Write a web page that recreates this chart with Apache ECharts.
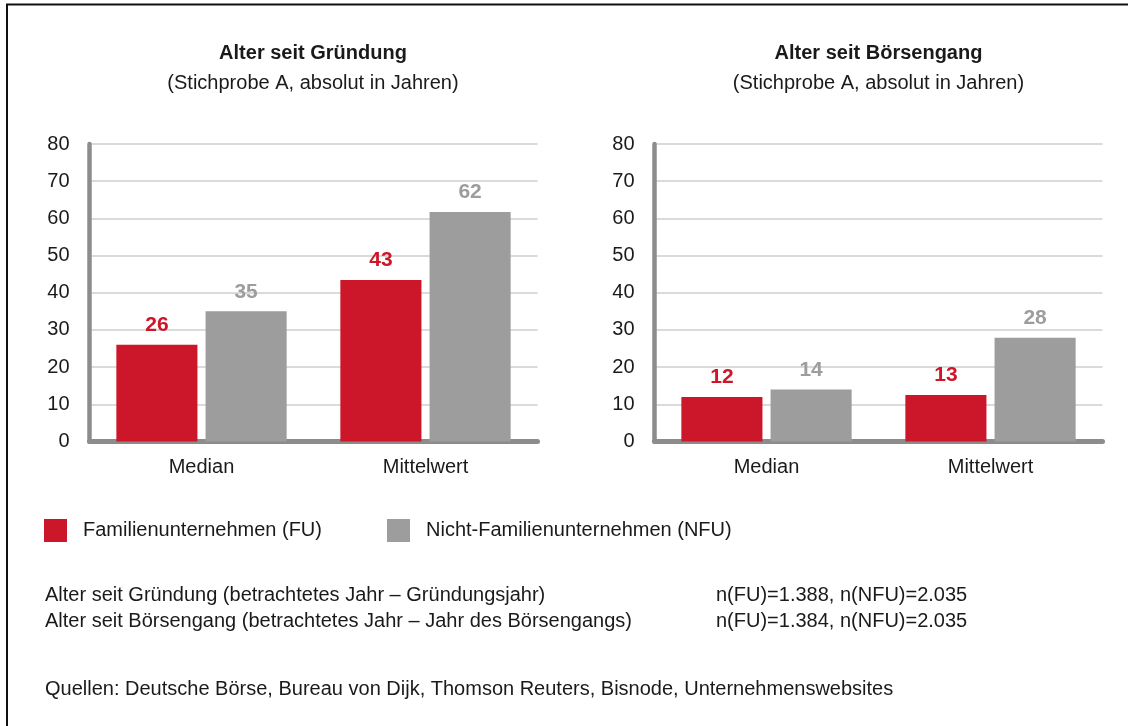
<!DOCTYPE html>
<html><head><meta charset="utf-8">
<script src="https://cdn.jsdelivr.net/npm/echarts@6/dist/echarts.min.js"></script>
<style>html,body{margin:0;padding:0;background:#fff}#c{width:1132px;height:726px}</style>
</head><body><div id="c"></div>
<script>
const categories = ['Median', 'Mittelwert'];
const seriesNames = ['Familienunternehmen (FU)', 'Nicht-Familienunternehmen (NFU)'];
const gruendungFU = [26, 43.4];
const gruendungNFU = [35, 61.7];
const boersenFU = [12, 12.5];
const boersenNFU = [14, 27.9];
const chartTitles = ['Alter seit Gründung', 'Alter seit Börsengang'];
const chartSubtitle = '(Stichprobe A, absolut in Jahren)';
const noteLines = [
  ['Alter seit Gründung (betrachtetes Jahr – Gründungsjahr)', 'n(FU)=1.388, n(NFU)=2.035'],
  ['Alter seit Börsengang (betrachtetes Jahr – Jahr des Börsengangs)', 'n(FU)=1.384, n(NFU)=2.035']
];
const sourceText = 'Quellen: Deutsche Börse, Bureau von Dijk, Thomson Reuters, Bisnode, Unternehmenswebsites';

const FONT = '"Liberation Sans", Arial, sans-serif';
const RED = '#CB1729', GRAY = '#9D9D9D', TXT = '#1a1a1a', AXIS = '#8C8C8C';

const chart = echarts.init(document.getElementById('c'), null, {renderer: 'canvas'});

function yAx(i) {
  return {
    type: 'value', gridIndex: i, min: 0, max: 80, interval: 10,
    axisLine: {show: true, lineStyle: {color: AXIS, width: 4.5}},
    axisTick: {show: false},
    axisLabel: {color: TXT, fontSize: 20, fontFamily: FONT, margin: 20},
    splitLine: {lineStyle: {color: '#DADADA', width: 2}}
  };
}
function xAx(i) {
  return {
    type: 'category', gridIndex: i, data: categories,
    axisLine: {show: true, lineStyle: {color: AXIS, width: 5}},
    axisTick: {show: false},
    axisLabel: {color: TXT, fontSize: 20, fontFamily: FONT, margin: 16}
  };
}
function bar(name, data, i, color) {
  return {
    type: 'bar', name: name, xAxisIndex: i, yAxisIndex: i, data: data,
    barWidth: '36.2%', barGap: '10%',
    itemStyle: {color: color},
    label: {show: true, position: 'top', distance: 9, color: color,
      fontSize: 21, fontWeight: 'bold', fontFamily: FONT,
      formatter: p => String(Math.round(p.value))}
  };
}
function titleAt(x, text) {
  return {
    text: text, subtext: chartSubtitle, left: x, top: 42, textAlign: 'center',
    itemGap: 8, padding: 0,
    textStyle: {fontSize: 20, fontWeight: 'bold', color: TXT, fontFamily: FONT, lineHeight: 22},
    subtextStyle: {fontSize: 20, color: TXT, fontFamily: FONT, lineHeight: 22}
  };
}

const graphics = [
  {type: 'polyline', shape: {points: [[7, 730], [7, 4.5], [1128, 4.5]]},
   style: {stroke: '#111', lineWidth: 2, fill: null}, silent: true}
];
noteLines.forEach((ln, k) => {
  graphics.push({type: 'text', left: 45, top: 585 + k * 26,
    style: {text: ln[0], fontSize: 20, fontFamily: FONT, fill: TXT}});
  graphics.push({type: 'text', left: 716, top: 585 + k * 26,
    style: {text: ln[1], fontSize: 20, fontFamily: FONT, fill: TXT}});
});
graphics.push({type: 'text', left: 45, top: 679,
  style: {text: sourceText, fontSize: 20, fontFamily: FONT, fill: TXT}});

function legendAt(x, name) {
  return {
    left: x, top: 519, padding: 0, data: [name], icon: 'rect', itemWidth: 23, itemHeight: 23,
    selectedMode: false,
    textStyle: {fontSize: 20, color: TXT, fontFamily: FONT, padding: [0, 0, 0, 11]}
  };
}

chart.setOption({
  animation: false,
  textStyle: {fontFamily: FONT},
  title: [titleAt(313, chartTitles[0]), titleAt(878.5, chartTitles[1])],
  legend: [legendAt(44, seriesNames[0]), legendAt(387, seriesNames[1])],
  grid: [
    {left: 89.5, top: 144, width: 448, height: 297.5},
    {left: 654.5, top: 144, width: 448, height: 297.5}
  ],
  xAxis: [xAx(0), xAx(1)],
  yAxis: [yAx(0), yAx(1)],
  series: [
    bar(seriesNames[0], gruendungFU, 0, RED),
    bar(seriesNames[1], gruendungNFU, 0, GRAY),
    bar(seriesNames[0], boersenFU, 1, RED),
    bar(seriesNames[1], boersenNFU, 1, GRAY)
  ],
  graphic: graphics
});
</script></body></html>
